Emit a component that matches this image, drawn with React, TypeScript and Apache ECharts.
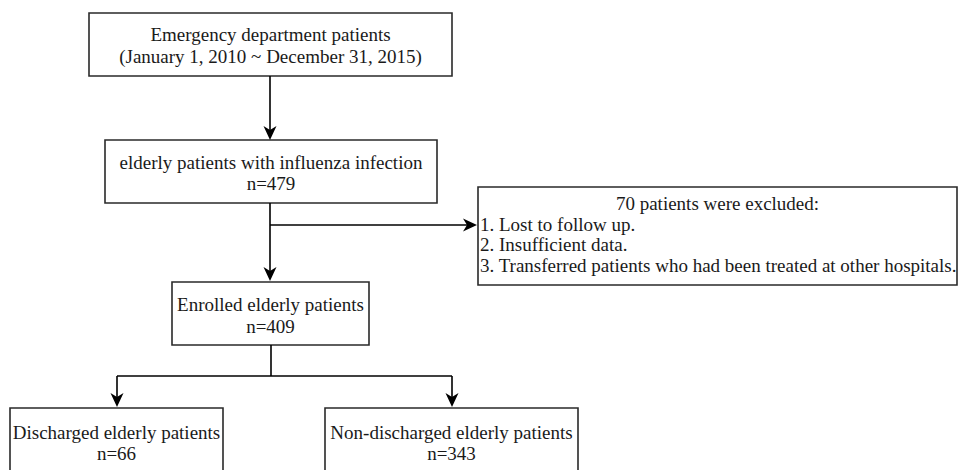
import React, { useEffect, useRef } from "react";
import * as echarts from "echarts";

// Flowchart content
const boxTitles = [
  "Emergency department patients",
  "elderly patients with influenza infection",
  "Enrolled elderly patients",
  "Discharged elderly patients",
  "Non-discharged elderly patients",
];
const boxSubtitles = [
  "(January 1, 2010 ~ December 31, 2015)",
  "n=479",
  "n=409",
  "n=66",
  "n=343",
];
const exclusionTitle = "70 patients were excluded:";
const exclusionItems = [
  "1. Lost to follow up.",
  "2. Insufficient data.",
  "3. Transferred patients who had been treated at other hospitals.",
];

// Layout (pixel positions)
const boxRects = [
  { l: 89, t: 13, r: 452, b: 76 },
  { l: 105, t: 140, r: 437, b: 203 },
  { l: 172, t: 282, r: 369, b: 345 },
  { l: 10, t: 408, r: 223, b: 490 },
  { l: 325, t: 408, r: 578, b: 490 },
];
const textRows = [
  [34, 56],
  [162, 183],
  [304, 326],
  [432, 453],
  [432, 453],
];
const exRect = { l: 478, t: 187, r: 957, b: 285 };

const FONT = '"Liberation Serif", "DejaVu Serif", serif';
const INK = "#1a1a1a";
const STROKE = "#2a2a2a";

function downHead(x: number, y: number) {
  return {
    type: "polygon",
    shape: { points: [[x, y], [x - 6.5, y - 14], [x, y - 10], [x + 6.5, y - 14]] },
    style: { fill: "#000" },
  };
}
function rightHead(x: number, y: number) {
  return {
    type: "polygon",
    shape: { points: [[x, y], [x - 14, y - 6.5], [x - 10, y], [x - 14, y + 6.5]] },
    style: { fill: "#000" },
  };
}
function seg(x1: number, y1: number, x2: number, y2: number) {
  return {
    type: "line",
    shape: { x1, y1, x2, y2 },
    style: { stroke: "#000", lineWidth: 1.6 },
  };
}
function txt(s: string, x: number, y: number, align: string) {
  return {
    type: "text",
    x,
    y,
    style: {
      text: s,
      fontFamily: FONT,
      fontSize: 19,
      fill: INK,
      textAlign: align,
      textVerticalAlign: "middle",
    },
  };
}

export default function App() {
  const ref = useRef<HTMLDivElement>(null);
  useEffect(() => {
    if (!ref.current) return;
    const chart = echarts.init(ref.current, undefined, { renderer: "svg" });
    const els: any[] = [];
    boxRects.forEach((b, i) => {
      els.push({
        type: "rect",
        shape: { x: b.l, y: b.t, width: b.r - b.l, height: b.b - b.t },
        style: { fill: "#fff", stroke: STROKE, lineWidth: 1.6 },
      });
      const cx = (b.l + b.r) / 2;
      els.push(txt(boxTitles[i], cx, textRows[i][0], "center"));
      els.push(txt(boxSubtitles[i], cx, textRows[i][1], "center"));
    });
    els.push({
      type: "rect",
      shape: { x: exRect.l, y: exRect.t, width: exRect.r - exRect.l, height: exRect.b - exRect.t },
      style: { fill: "#fff", stroke: STROKE, lineWidth: 1.6 },
    });
    els.push(txt(exclusionTitle, (exRect.l + exRect.r) / 2, 203, "center"));
    exclusionItems.forEach((s, i) => {
      els.push(txt(s, exRect.l + 2, 224 + i * 20.5, "left"));
    });
    // connectors
    els.push(seg(270, 76, 270, 132), downHead(270, 140));
    els.push(seg(270, 203, 270, 273), downHead(270, 281));
    els.push(seg(270, 225, 469, 225), rightHead(477, 225));
    els.push(seg(271, 345, 271, 376));
    els.push(seg(117, 376, 452, 376));
    els.push(seg(117, 376, 117, 399), downHead(117, 407));
    els.push(seg(452, 376, 452, 399), downHead(452, 407));

    chart.setOption({
      animation: false,
      backgroundColor: "#fff",
      graphic: { elements: els },
    });
    return () => chart.dispose();
  }, []);
  return (
    <div
      ref={ref}
      style={{ position: "fixed", left: 0, top: 0, width: 959, height: 470 }}
    />
  );
}
